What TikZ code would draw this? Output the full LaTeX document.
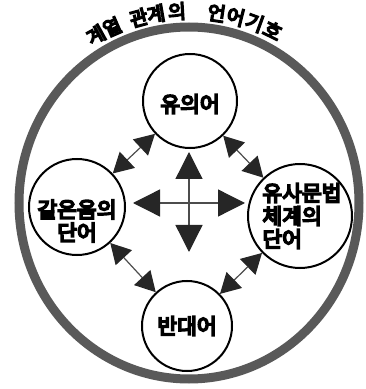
\documentclass[tikz,border=0pt]{standalone}
\usepackage{fontspec}
\newfontfamily\kor{Noto Sans CJK KR}[FakeBold=8]
\usetikzlibrary{arrows.meta,calc}

\begin{document}
\begin{tikzpicture}[x=1pt,y=1pt,
    word/.style={circle,draw,line width=2,inner sep=0},
    wordtext/.style={align=center,inner sep=0,font=\kor\fontsize{21.5}{23}\selectfont},
    link/.style={{Triangle[length=20pt,width=22pt,color=black!85]}-{Triangle[length=20pt,width=22pt,color=black!85]},
      line width=1.2,draw=black!70},
    cross/.style={{Triangle[length=27pt,width=27pt,color=black!85]}-{Triangle[length=27pt,width=27pt,color=black!85]},
      line width=1.3,draw=black!70}]
    \useasboundingbox (0,0) rectangle (365,389);

    % bande ext\'erieure
    \coordinate (mid) at (189,186);
    \draw[line width=9,black!65] (mid) ellipse [x radius=170,y radius=176];

    % titre, lettre par lettre le long de l'arc
    \foreach \ch/\ang [count=\i] in {계/119,열/113.6,관/105.2,계/99.9,의/93.6,언/81.7,어/75.9,기/70,호/64.1}
      \node[inner sep=0,rotate=\ang-90,font=\kor\fontsize{19.5}{19.5}\selectfont] (title\i) at ($(mid)+(\ang:192)$) {\ch};

    % les quatre mots
    \node[word,minimum size=94] (syn) at (190,288) {};
    \node[word,minimum size=96] (hom) at (77,182) {};
    \node[word,minimum size=104] (gram) at (300,173) {};
    \node[word,minimum size=90] (ant) at (187,63) {};
    \node[wordtext] (syntext) at ([yshift=-3]syn.center) {유의어};
    \node[wordtext] (homtext) at ([yshift=-14]hom.center) {같은음의\\단어};
    \node[wordtext,align=left] (gramtext) at ([xshift=2]gram.center) {유사문법\\체계의\\단어};
    \node[wordtext] (anttext) at (ant.center) {반대어};

    % liens
    \draw[link] (syn) -- (hom);
    \draw[link] (syn) -- (gram);
    \draw[link] (hom) -- (ant);
    \draw[link] (gram) -- (ant);

    % croix au centre
    \coordinate (up) at (189,237);
    \coordinate (dn) at (189,137);
    \coordinate (lft) at (133,186);
    \coordinate (rgt) at (245,186);
    \draw[cross] (dn) -- (up);
    \draw[cross] (lft) -- (rgt);

\end{tikzpicture}
\end{document}
